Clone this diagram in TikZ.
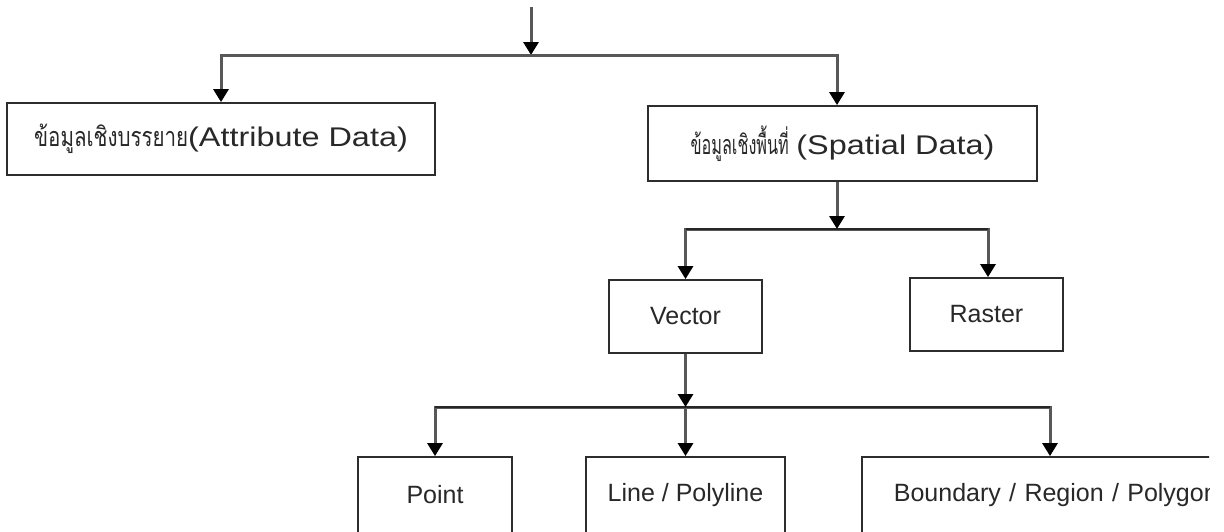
\documentclass[tikz,border=0pt]{standalone}
\usepackage{fontspec}
\setmainfont{Liberation Sans}
\newfontfamily\thaifont[Script=Thai]{Loma}
\newfontfamily\widesans{Liberation Sans}[FakeStretch=1.2]
\usetikzlibrary{arrows.meta,calc}
\definecolor{conncol}{RGB}{88,88,88}
\definecolor{boxcol}{RGB}{45,45,45}
\definecolor{txtcol}{RGB}{40,40,40}
\begin{document}
\begin{tikzpicture}[x=1pt,y=-1pt,
  box/.style={draw=boxcol, line width=1.8pt, fill=white, inner sep=0pt, text=txtcol},
  conn/.style={draw=conncol, line width=3pt},
  bus/.style={draw=black!85, line width=2pt},
  arr/.style={-{Triangle[width=15pt,length=13pt,color=black]}},
  upper/.style={box, font=\fontsize{27}{30}\selectfont},
  lower/.style={box, font=\fontsize{25}{28}\selectfont}]
\clip (0,0) rectangle (1224,531);
\useasboundingbox (0,0) rectangle (1224,531);
\fill[white] (0,0) rectangle (1224,531);

% boxes
\node[upper, minimum width=428pt, minimum height=72pt] (attr) at (221,139)
  {\scalebox{0.76}[1]{\thaifont\fontsize{27}{30}\selectfont ข้อมูลเชิงบรรยาย}{\widesans (Attribute Data)}};
\node[upper, minimum width=389pt, minimum height=75pt] (spat) at (842.5,143.5)
  {\scalebox{0.6}[1]{\thaifont\fontsize{27}{30}\selectfont ข้อมูลเชิงพื้นที่} {\widesans (Spatial Data)}};
\node[lower, minimum width=153pt, minimum height=73pt] (vec) at (685.5,316.5) {Vector};
\node[lower, minimum width=153pt, minimum height=73pt] (ras) at (986.5,314.5) {Raster};
\node[lower, minimum width=154pt, minimum height=76pt] (pt) at (435,495) {Point};
\node[lower, minimum width=199pt, minimum height=76pt] (line) at (685.5,495) {Line / Polyline};
\begin{scope}
\clip (0,0) rectangle (1209,531);
\node[lower, anchor=west, minimum height=76pt, inner xsep=32pt, text width=400pt, align=left] (bnd) at (861,495)
  {Boundary / Region / Polygon};
\end{scope}

% connectors, level 1
\coordinate (top) at (531,7);
\coordinate (j1) at (531,55);
\draw[conn,arr] (top) -- (j1);
\draw[conn,arr] (j1) -| (attr.north);
\draw[conn,arr] (j1) -| ([xshift=-5.5pt]spat.north);

% level 2
\coordinate (j2) at (837,229);
\draw[conn,arr] (j2) -| (vec.north);
\draw[conn,arr] (j2) -| ([xshift=1.5pt]ras.north);
\draw[bus] (vec.north |- j2) -- ([xshift=1.5pt]ras.north |- j2);
\draw[conn,arr] ([xshift=-5.5pt]spat.south) -- (j2);

% level 3
\coordinate (j3) at (685.5,407);
\draw[conn,arr] (j3) -| (pt.north);
\draw[conn,arr] (j3) -- (line.north);
\draw[conn,arr] (j3) -| ([xshift=189pt]bnd.north west);
\draw[bus] (pt.north |- j3) -- ([xshift=189pt]bnd.north west |- j3);
\draw[conn,arr] (vec.south) -- (j3);
\end{tikzpicture}
\end{document}
